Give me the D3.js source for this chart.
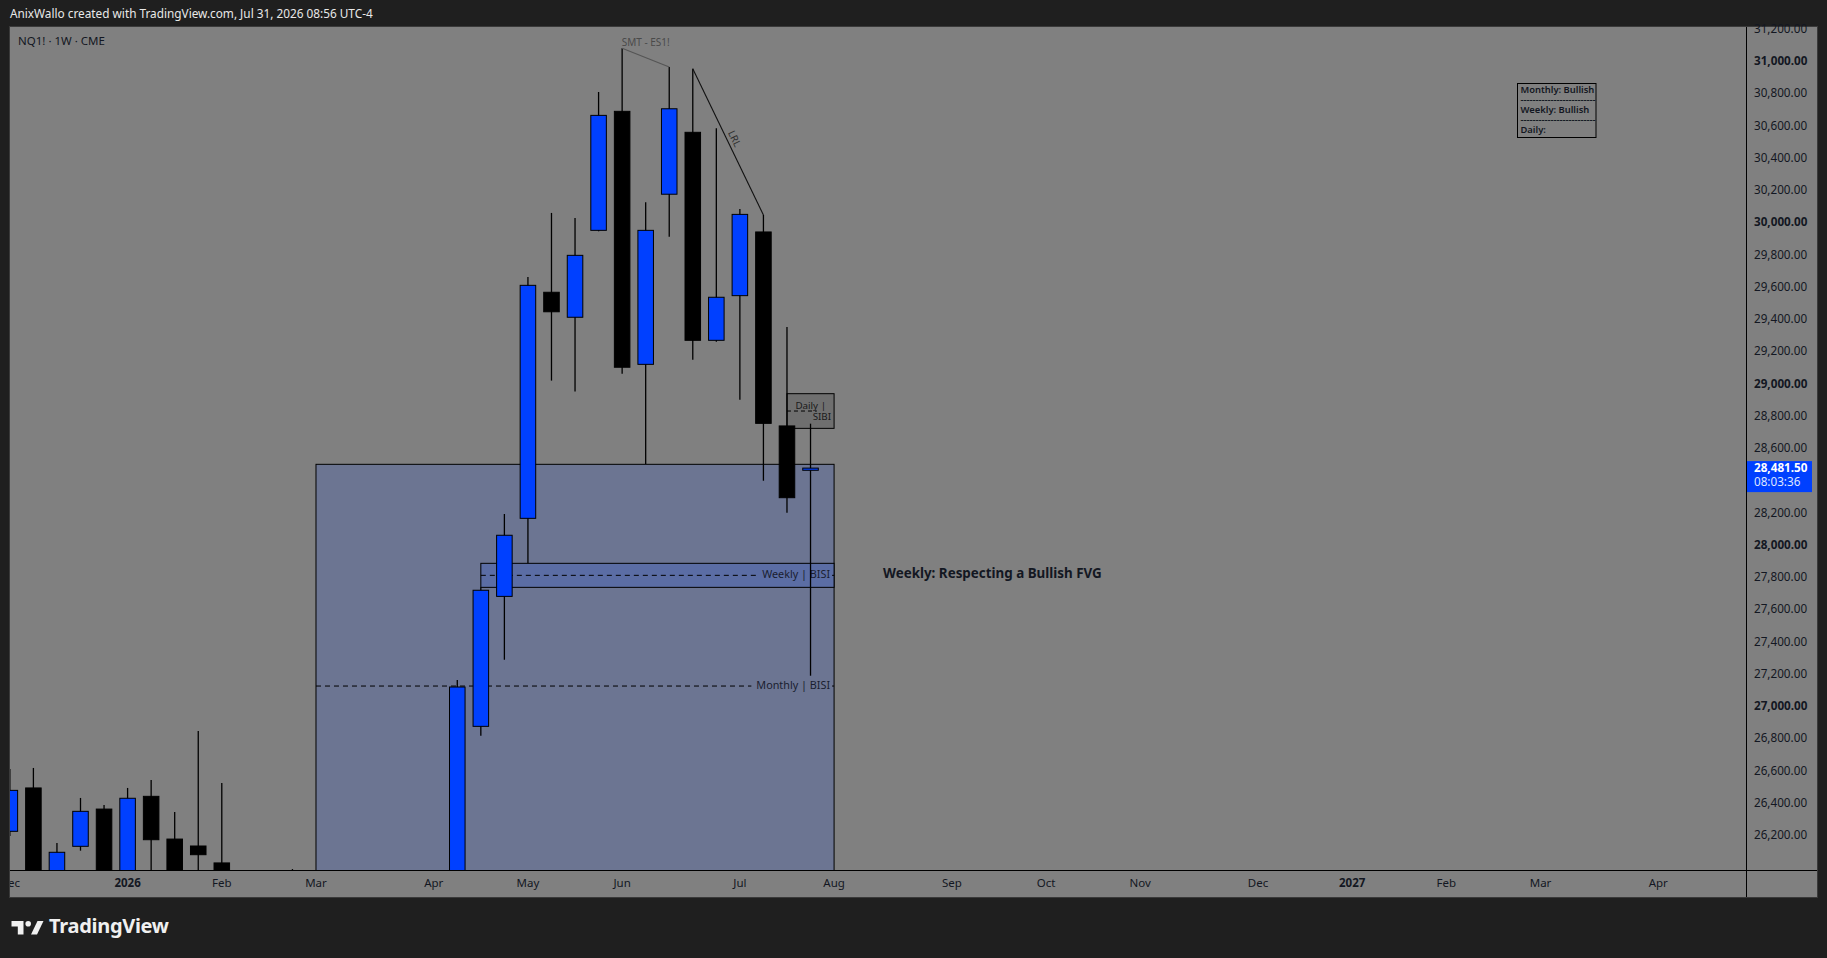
<!DOCTYPE html>
<html>
<head>
<meta charset="utf-8">
<script src="https://cdn.jsdelivr.net/npm/d3@7"></script>
<style>
  html, body { margin: 0; padding: 0; background: #1f1f1f; overflow: hidden; }
  svg { display: block; font-family: "Noto Sans", "DejaVu Sans", sans-serif; }
</style>
</head>
<body>
<div id="chart"></div>
<script>
(function() {

// ---- data (NQ1! weekly) ----
const weeks = [
    "2025-12-01", "2025-12-08", "2025-12-15", "2025-12-22", "2025-12-29",
    "2026-01-05", "2026-01-12", "2026-01-19", "2026-01-26", "2026-02-02",
    "2026-02-09", "2026-02-16", "2026-02-23", "2026-03-02", "2026-03-09",
    "2026-03-16", "2026-03-23", "2026-03-30", "2026-04-06", "2026-04-13",
    "2026-04-20", "2026-04-27", "2026-05-04", "2026-05-11", "2026-05-18",
    "2026-05-25", "2026-06-01", "2026-06-08", "2026-06-15", "2026-06-22",
    "2026-06-29", "2026-07-06", "2026-07-13", "2026-07-20", "2026-07-27"
];
const opens = [
    26229, 26498, 25950, 26136, 26367, 25960, 26446, 26181, 26138, 26033,
    25900, 25450, 25700, 25300, 24800, 24500, 24100, 24500, 25100, 25800,
    26880, 27686, 28170, 29572, 29417, 29956, 30694, 29125, 30180, 30564,
    29274, 29551, 29946, 28743, 28468
];
const highs = [
    26615, 26622, 26157, 26436, 26392, 26498, 26547, 26349, 26851, 26529,
    25960, 25900, 25995, 25600, 25200, 24900, 24700, 25300, 25950, 27167,
    27742, 28197, 29667, 30064, 30033, 30814, 31085, 30130, 30969, 30958,
    30589, 30088, 30051, 29357, 28757
];
const lows = [
    26200, 25900, 25900, 26109, 25900, 25900, 25950, 25900, 25900, 25900,
    25300, 25200, 25100, 24600, 24300, 23900, 23700, 24300, 25000, 25750,
    26822, 27293, 27891, 29024, 28957, 29950, 29067, 28507, 29917, 29154,
    29265, 28906, 28403, 28205, 27194
];
const closes = [
    26483, 25960, 26099, 26353, 25970, 26434, 26177, 25960, 26084, 25960,
    25450, 25700, 25300, 24800, 24500, 24100, 24500, 25100, 25800, 27124,
    27724, 28065, 29615, 29451, 29801, 30669, 29107, 29956, 30710, 29274,
    29541, 30055, 28759, 28298, 28481.5
];

const priceTicks = [
    26200, 26400, 26600, 26800, 27000, 27200, 27400, 27600, 27800, 28000,
    28200, 28400, 28600, 28800, 29000, 29200, 29400, 29600, 29800, 30000,
    30200, 30400, 30600, 30800, 31000, 31200
];
const timeTickDates = [
    "2025-12-01", "2026-01-05", "2026-02-02", "2026-03-02", "2026-04-06",
    "2026-05-04", "2026-06-01", "2026-07-06", "2026-08-03", "2026-09-07",
    "2026-10-05", "2026-11-02", "2026-12-07", "2027-01-04", "2027-02-01",
    "2027-03-01", "2027-04-05"
];
const timeTickLabels = [
    "Dec", "2026", "Feb", "Mar", "Apr", "May", "Jun", "Jul", "Aug", "Sep",
    "Oct", "Nov", "Dec", "2027", "Feb", "Mar", "Apr"
];

// FVG zones drawn on the chart
const zoneNames  = ["Monthly | BISI", "Weekly | BISI", "Daily | SIBI"];
const zoneStarts = ["2026-03-02", "2026-04-20", "2026-07-20"];
const zoneEnds   = ["2026-08-03", "2026-08-03", "2026-08-03"];
const zoneTops   = [28505, 27891, 28943];
const zoneBottoms = [25755, 27742, 28728];

const lastPrice = 28481.5;
const countdown = "08:03:36";
const biasLines = ["Monthly: Bullish", "-------------------------", "Weekly: Bullish", "-------------------------", "Daily:"];

// ---- layout ----
const w = 1827;
const h = 958;
const paneLeft = 10;
const paneTop = 27;
const paneRight = 1746;
const paneBottom = 870;
const axisRight = 1817;
const timeBottom = 897;

const blue = "#0040ff";
const ink = "#131722";

const parse = d3.utcParse("%Y-%m-%d");

const candles = weeks.map(function(d, i) {
    return { date: parse(d), o: opens[i], h: highs[i], l: lows[i], c: closes[i] };
});

const x = d3.scaleUtc()
    .domain([parse("2025-12-01"), parse("2027-04-05")])
    .range([9.85, 1658.3]);

const y = d3.scaleLinear()
    .domain([26200, 31000])
    .range([836, 62]);

const barStep = x(parse("2026-01-08")) - x(parse("2026-01-01"));
const bodyW = barStep * 0.66;

const svg = d3.select("#chart")
    .append("svg")
    .attr("width", w)
    .attr("height", h)
    .attr("viewBox", `0 0 ${w} ${h}`);

svg.append("rect").attr("width", w).attr("height", h).attr("fill", "#1f1f1f");

// header
svg.append("text")
    .attr("x", 10).attr("y", 15)
    .attr("dominant-baseline", "middle")
    .attr("font-size", 11.8)
    .attr("fill", "#e8e8e8")
    .text("AnixWallo created with TradingView.com, Jul 31, 2026 08:56 UTC-4");

// chart background
svg.append("rect")
    .attr("x", paneLeft - 0.5).attr("y", paneTop - 0.5)
    .attr("width", axisRight - paneLeft + 1).attr("height", timeBottom - paneTop + 1)
    .attr("fill", "#808080")
    .attr("stroke", "#3a3a3a");

const defs = svg.append("defs");
defs.append("clipPath").attr("id", "pane")
    .append("rect")
    .attr("x", paneLeft).attr("y", paneTop)
    .attr("width", paneRight - paneLeft).attr("height", paneBottom - paneTop);
defs.append("clipPath").attr("id", "timeaxis")
    .append("rect")
    .attr("x", paneLeft).attr("y", paneBottom)
    .attr("width", paneRight - paneLeft).attr("height", timeBottom - paneBottom);

const pane = svg.append("g").attr("clip-path", "url(#pane)");

// zones
const zoneFills = ["#6c7592", "#5b6da4", "#6f6f6f"];
zoneNames.forEach(function(name, i) {
    const x0 = x(parse(zoneStarts[i]));
    const x1 = x(parse(zoneEnds[i]));
    const yt = y(zoneTops[i]);
    const yb = y(zoneBottoms[i]);
    const ym = y((zoneTops[i] + zoneBottoms[i]) / 2);

    pane.append("rect")
        .attr("x", x0).attr("y", yt)
        .attr("width", x1 - x0).attr("height", yb - yt)
        .attr("fill", zoneFills[i])
        .attr("stroke", "#000")
        .attr("stroke-width", 1);

    if (i < 2) {
        const label = pane.append("text")
            .attr("x", x1 - 4).attr("y", ym)
            .attr("text-anchor", "end")
            .attr("dominant-baseline", "middle")
            .attr("font-size", 10.8)
            .attr("fill", "#1a1e30")
            .text(name);
        const tw = label.node().getComputedTextLength();
        pane.append("line")
            .attr("x1", x0).attr("x2", x1 - 4 - tw - 5)
            .attr("y1", ym).attr("y2", ym)
            .attr("stroke", "#000")
            .attr("stroke-dasharray", "5,4");
        pane.append("line")
            .attr("x1", x1 - 2).attr("x2", x1)
            .attr("y1", ym).attr("y2", ym)
            .attr("stroke", "#000");
    } else {
        const parts = name.split(" | ");
        const top = pane.append("text")
            .attr("x", x1 - 8).attr("y", ym - 4.5)
            .attr("text-anchor", "end")
            .attr("dominant-baseline", "middle")
            .attr("font-size", 9.8)
            .attr("fill", "#1a1a1a")
            .text(parts[0] + " |");
        pane.append("text")
            .attr("x", x1 - 3).attr("y", ym + 6)
            .attr("text-anchor", "end")
            .attr("dominant-baseline", "middle")
            .attr("font-size", 9.8)
            .attr("fill", "#1a1a1a")
            .text(parts[1]);
        pane.append("line")
            .attr("x1", x0).attr("x2", x1 - 8 - top.node().getComputedTextLength() * 0.3)
            .attr("y1", ym).attr("y2", ym)
            .attr("stroke", "#000")
            .attr("stroke-dasharray", "4,3");
    }
});

// candles
const bars = pane.selectAll("g.candle")
    .data(candles)
    .enter()
    .append("g")
    .attr("class", "candle");

bars.append("line")
    .attr("x1", function(d) { return x(d.date); })
    .attr("x2", function(d) { return x(d.date); })
    .attr("y1", function(d) { return y(d.h); })
    .attr("y2", function(d) { return y(d.l); })
    .attr("stroke", "#000")
    .attr("stroke-width", 1.3);

bars.append("rect")
    .attr("x", function(d) { return x(d.date) - bodyW / 2; })
    .attr("y", function(d) { return y(Math.max(d.o, d.c)); })
    .attr("width", bodyW)
    .attr("height", function(d) { return Math.max(1, Math.abs(y(d.o) - y(d.c))); })
    .attr("fill", function(d) { return d.c >= d.o ? blue : "#000"; })
    .attr("stroke", "#000")
    .attr("stroke-width", 1);

// SMT and LRL trendlines
const smtA = candles[weeks.indexOf("2026-06-01")];
const smtB = candles[weeks.indexOf("2026-06-15")];
pane.append("line")
    .attr("x1", x(smtA.date)).attr("y1", y(smtA.h))
    .attr("x2", x(smtB.date)).attr("y2", y(smtB.h))
    .attr("stroke", "#555")
    .attr("stroke-width", 1.2);
pane.append("text")
    .attr("x", (x(smtA.date) + x(smtB.date)) / 2)
    .attr("y", y(smtA.h) - 5)
    .attr("text-anchor", "middle")
    .attr("dominant-baseline", "middle")
    .attr("font-size", 10)
    .attr("fill", "#4a4a4a")
    .text("SMT - ES1!");

const lrlA = candles[weeks.indexOf("2026-06-22")];
const lrlB = candles[weeks.indexOf("2026-07-13")];
const lx1 = x(lrlA.date), ly1 = y(lrlA.h), lx2 = x(lrlB.date), ly2 = y(lrlB.h);
pane.append("line")
    .attr("x1", lx1).attr("y1", ly1)
    .attr("x2", lx2).attr("y2", ly2)
    .attr("stroke", "#111")
    .attr("stroke-width", 1.1);
const ang = Math.atan2(ly2 - ly1, lx2 - lx1) * 180 / Math.PI;
const t = 0.48;
pane.append("text")
    .attr("transform", "translate(" + (lx1 + (lx2 - lx1) * t + 7) + "," + (ly1 + (ly2 - ly1) * t) + ") rotate(" + ang + ")")
    .attr("text-anchor", "middle")
    .attr("dominant-baseline", "middle")
    .attr("font-size", 10)
    .attr("fill", "#2f2f2f")
    .text("LRL");

// notes
pane.append("text")
    .attr("x", 883).attr("y", 574)
    .attr("dominant-baseline", "middle")
    .attr("font-size", 13.4)
    .attr("font-weight", "bold")
    .attr("fill", ink)
    .text("Weekly: Respecting a Bullish FVG");

pane.append("text")
    .attr("x", 18).attr("y", 42)
    .attr("dominant-baseline", "middle")
    .attr("font-size", 11.5)
    .attr("fill", ink)
    .text("NQ1! \u00b7 1W \u00b7 CME");

const bias = pane.append("g");
bias.append("rect")
    .attr("x", 1517.5).attr("y", 83.5)
    .attr("width", 78.5).attr("height", 54)
    .attr("fill", "none")
    .attr("stroke", "#000");
bias.selectAll("text")
    .data(biasLines)
    .enter()
    .append("text")
    .attr("x", 1520.5)
    .attr("y", function(d, i) { return 90.8 + i * 10; })
    .attr("dominant-baseline", "middle")
    .attr("font-size", 9.4)
    .attr("font-weight", 600)
    .attr("fill", ink)
    .text(function(d) { return d; });

// axes lines
svg.append("line")
    .attr("x1", paneLeft).attr("x2", axisRight)
    .attr("y1", paneBottom + 0.5).attr("y2", paneBottom + 0.5)
    .attr("stroke", "#000");
svg.append("line")
    .attr("x1", paneRight + 0.5).attr("x2", paneRight + 0.5)
    .attr("y1", paneTop).attr("y2", timeBottom)
    .attr("stroke", "#000");

// price axis
const fmt = d3.format(",.2f");
const ly = y(lastPrice);
svg.append("g").selectAll("text")
    .data(priceTicks.filter(function(v) {
        return y(v) > paneTop - 2 && (y(v) < ly - 14 || y(v) > ly + 30);
    }))
    .enter()
    .append("text")
    .attr("x", 1754)
    .attr("y", function(v) { return y(v); })
    .attr("dominant-baseline", "middle")
    .attr("font-size", 11.7)
    .attr("font-weight", function(v) { return v % 1000 === 0 ? "bold" : "normal"; })
    .attr("fill", ink)
    .text(function(v) { return fmt(v); });

svg.append("rect")
    .attr("x", paneRight + 1).attr("y", ly - 7)
    .attr("width", 65).attr("height", 31)
    .attr("fill", blue);
svg.append("text")
    .attr("x", 1754).attr("y", ly + 1)
    .attr("dominant-baseline", "middle")
    .attr("font-size", 11.7)
    .attr("font-weight", "bold")
    .attr("fill", "#fff")
    .text(fmt(lastPrice));
svg.append("text")
    .attr("x", 1754).attr("y", ly + 15)
    .attr("dominant-baseline", "middle")
    .attr("font-size", 11.7)
    .attr("fill", "#dfe6ff")
    .text(countdown);

// time axis
svg.append("g")
    .attr("clip-path", "url(#timeaxis)")
    .selectAll("text")
    .data(timeTickDates)
    .enter()
    .append("text")
    .attr("x", function(d) { return x(parse(d)); })
    .attr("y", 884)
    .attr("text-anchor", "middle")
    .attr("dominant-baseline", "middle")
    .attr("font-size", 11.5)
    .attr("font-weight", function(d, i) { return /^\d+$/.test(timeTickLabels[i]) ? "bold" : "normal"; })
    .attr("fill", ink)
    .text(function(d, i) { return timeTickLabels[i]; });

// TradingView logo
const logo = svg.append("g").attr("fill", "#f0f0f0");
logo.append("path").attr("d", "M11.5,921 H23.5 V934.5 H17.8 V926.5 H11.5 Z");
logo.append("circle").attr("cx", 28.2).attr("cy", 923.8).attr("r", 2.8);
logo.append("path").attr("d", "M31,934.5 L37.5,921 H43.5 L37,934.5 Z");
logo.append("text")
    .attr("x", 49).attr("y", 928)
    .attr("dominant-baseline", "middle")
    .attr("font-size", 20)
    .attr("font-weight", "bold")
    .attr("letter-spacing", -0.3)
    .text("TradingView");

})();
</script>
</body>
</html>
